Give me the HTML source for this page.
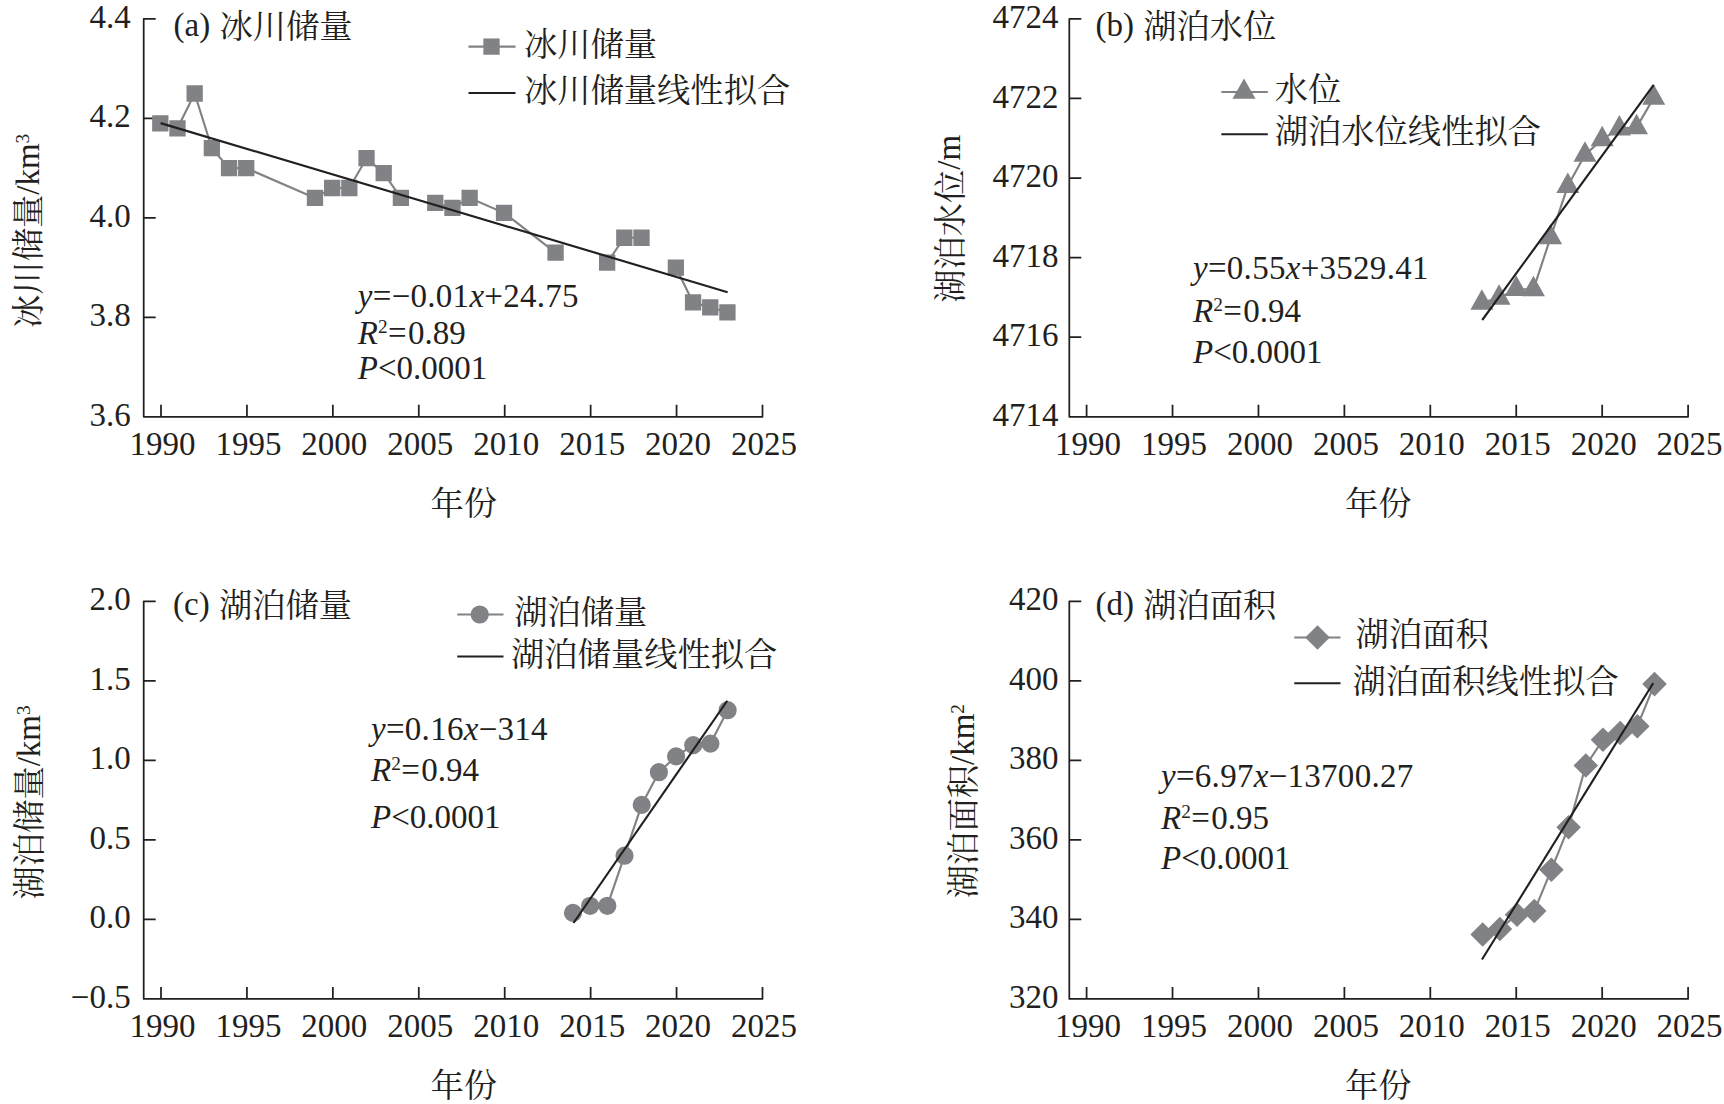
<!DOCTYPE html>
<html lang="zh-CN">
<head>
<meta charset="utf-8">
<title>冰川储量与湖泊变化</title>
<style>
html,body{margin:0;padding:0;background:#fff;}
svg{display:block;}
text{font-family:"Liberation Serif", "Noto Serif CJK SC", serif;font-size:33px;fill:#231f20;}
.c{font-size:33.3px;font-weight:400;}
.i{font-style:italic;}
.sup{font-size:19.3px;}
</style>
</head>
<body>
<svg width="1724" height="1104" viewBox="0 0 1724 1104">
<rect width="1724" height="1104" fill="#fff"/>
<path d="M155.7 18.9H143.7V416.8H762.5V404.8" fill="none" stroke="#231f20" stroke-width="1.75" stroke-linejoin="round"/>
<text x="130.7" y="28.00" text-anchor="end">4.4</text>
<text x="130.7" y="127.47" text-anchor="end">4.2</text>
<text x="130.7" y="226.95" text-anchor="end">4.0</text>
<text x="130.7" y="326.43" text-anchor="end">3.8</text>
<text x="130.7" y="425.90" text-anchor="end">3.6</text>
<text x="162.50" y="455.30" text-anchor="middle">1990</text>
<text x="248.43" y="455.30" text-anchor="middle">1995</text>
<text x="334.36" y="455.30" text-anchor="middle">2000</text>
<text x="420.29" y="455.30" text-anchor="middle">2005</text>
<text x="506.21" y="455.30" text-anchor="middle">2010</text>
<text x="592.14" y="455.30" text-anchor="middle">2015</text>
<text x="678.07" y="455.30" text-anchor="middle">2020</text>
<text x="764.00" y="455.30" text-anchor="middle">2025</text>
<path d="M143.7 118.38h12M143.7 217.85h12M143.7 317.32h12M161.00 416.8v-12M246.93 416.8v-12M332.86 416.8v-12M418.79 416.8v-12M504.71 416.8v-12M590.64 416.8v-12M676.57 416.8v-12" fill="none" stroke="#231f20" stroke-width="1.75"/>
<text class="c" x="463.75" y="515.4" text-anchor="middle">年份</text>
<text transform="translate(39.2 230.85) rotate(-90)" text-anchor="middle"><tspan class="c" dy="0.6">冰川储量</tspan><tspan dy="-0.6">/km<tspan class="sup" dy="-10">3</tspan></tspan></text>
<text x="173.5" y="36.2">(a) <tspan class="c" dy="1.8" dx="1">冰川储量</tspan></text>
<path d="M160.30 123.35L177.49 128.32L194.67 93.51L211.86 148.22L229.04 168.11L246.23 168.11L314.97 197.96L332.16 188.01L349.34 188.01L366.53 158.17L383.71 173.09L400.90 197.96M435.27 202.93L452.46 207.90L469.64 197.96L504.01 212.88L555.57 252.67M607.13 262.61L624.31 237.75L641.50 237.75M675.87 267.59L693.06 302.40L710.24 307.38L727.43 312.35" fill="none" stroke="#808285" stroke-width="2.15" stroke-linejoin="round"/>
<path d="M152.15 115.20h16.3v16.3h-16.3zM169.34 120.17h16.3v16.3h-16.3zM186.52 85.36h16.3v16.3h-16.3zM203.71 140.07h16.3v16.3h-16.3zM220.89 159.96h16.3v16.3h-16.3zM238.08 159.96h16.3v16.3h-16.3zM306.82 189.81h16.3v16.3h-16.3zM324.01 179.86h16.3v16.3h-16.3zM341.19 179.86h16.3v16.3h-16.3zM358.38 150.02h16.3v16.3h-16.3zM375.56 164.94h16.3v16.3h-16.3zM392.75 189.81h16.3v16.3h-16.3zM427.12 194.78h16.3v16.3h-16.3zM444.31 199.75h16.3v16.3h-16.3zM461.49 189.81h16.3v16.3h-16.3zM495.86 204.73h16.3v16.3h-16.3zM547.42 244.52h16.3v16.3h-16.3zM598.98 254.46h16.3v16.3h-16.3zM616.16 229.60h16.3v16.3h-16.3zM633.35 229.60h16.3v16.3h-16.3zM667.72 259.44h16.3v16.3h-16.3zM684.91 294.25h16.3v16.3h-16.3zM702.09 299.23h16.3v16.3h-16.3zM719.28 304.20h16.3v16.3h-16.3z" fill="#808285"/>
<path d="M160.60 123.10L727.60 292.20" stroke="#231f20" stroke-width="2.15" fill="none"/>
<path d="M468.5 46.6H515.5" stroke="#808285" stroke-width="2.15"/>
<path d="M483.35 38.45h16.3v16.3h-16.3z" fill="#808285"/>
<path d="M468.5 93H515.5" stroke="#231f20" stroke-width="2.15"/>
<text class="c" x="523.9" y="55.8">冰川储量</text>
<text class="c" x="523.9" y="102.2">冰川储量线性拟合</text>
<text x="357.8" y="306.50" letter-spacing="0.28"><tspan class="i">y</tspan>=−0.01<tspan class="i">x</tspan>+24.75</text>
<text x="357.8" y="344.40"><tspan class="i">R</tspan><tspan class="sup" dy="-11.3">2</tspan><tspan dy="11.3" dx="0.5">=</tspan><tspan dx="1.2">0.89</tspan></text>
<text x="357.8" y="378.80"><tspan class="i">P</tspan>&lt;0.0001</text>
<path d="M1081.3 18.9H1069.3V416.8H1688.1V404.8" fill="none" stroke="#231f20" stroke-width="1.75" stroke-linejoin="round"/>
<text x="1058.3999999999999" y="28.00" text-anchor="end">4724</text>
<text x="1058.3999999999999" y="107.58" text-anchor="end">4722</text>
<text x="1058.3999999999999" y="187.16" text-anchor="end">4720</text>
<text x="1058.3999999999999" y="266.74" text-anchor="end">4718</text>
<text x="1058.3999999999999" y="346.32" text-anchor="end">4716</text>
<text x="1058.3999999999999" y="425.90" text-anchor="end">4714</text>
<text x="1088.10" y="455.30" text-anchor="middle">1990</text>
<text x="1174.03" y="455.30" text-anchor="middle">1995</text>
<text x="1259.96" y="455.30" text-anchor="middle">2000</text>
<text x="1345.89" y="455.30" text-anchor="middle">2005</text>
<text x="1431.81" y="455.30" text-anchor="middle">2010</text>
<text x="1517.74" y="455.30" text-anchor="middle">2015</text>
<text x="1603.67" y="455.30" text-anchor="middle">2020</text>
<text x="1689.60" y="455.30" text-anchor="middle">2025</text>
<path d="M1069.3 98.48h12M1069.3 178.06h12M1069.3 257.64h12M1069.3 337.22h12M1086.60 416.8v-12M1172.53 416.8v-12M1258.46 416.8v-12M1344.39 416.8v-12M1430.31 416.8v-12M1516.24 416.8v-12M1602.17 416.8v-12" fill="none" stroke="#231f20" stroke-width="1.75"/>
<text class="c" x="1378.35" y="515.4" text-anchor="middle">年份</text>
<text transform="translate(960 218.85) rotate(-90)" text-anchor="middle"><tspan class="c" dy="2.3">湖泊水位</tspan><tspan dy="-2.3">/m</tspan></text>
<text x="1095.4" y="36.2">(b) <tspan class="c" dy="1.8" dx="1">湖泊水位</tspan></text>
<path d="M1481.87 302.85L1499.06 297.85L1516.24 289.10L1533.43 289.35L1550.61 237.35L1567.80 186.10L1584.99 154.85L1602.17 139.35L1619.36 128.60L1636.54 127.35L1653.73 97.85" fill="none" stroke="#808285" stroke-width="2.15" stroke-linejoin="round"/>
<path d="M1481.87 289.25l11.5 20.4h-23zM1499.06 284.25l11.5 20.4h-23zM1516.24 275.50l11.5 20.4h-23zM1533.43 275.75l11.5 20.4h-23zM1550.61 223.75l11.5 20.4h-23zM1567.80 172.50l11.5 20.4h-23zM1584.99 141.25l11.5 20.4h-23zM1602.17 125.75l11.5 20.4h-23zM1619.36 115.00l11.5 20.4h-23zM1636.54 113.75l11.5 20.4h-23zM1653.73 84.25l11.5 20.4h-23z" fill="#808285"/>
<path d="M1482.25 320.00L1653.70 84.90" stroke="#231f20" stroke-width="2.15" fill="none"/>
<path d="M1221.3 92H1267.8" stroke="#808285" stroke-width="2.15"/>
<path d="M1244.00 78.40l11.5 20.4h-23z" fill="#808285"/>
<path d="M1221.3 134.25H1267.8" stroke="#231f20" stroke-width="2.15"/>
<text class="c" x="1274.7" y="101.2">水位</text>
<text class="c" x="1274.7" y="143.45">湖泊水位线性拟合</text>
<text x="1193" y="279.20" letter-spacing="0.28"><tspan class="i">y</tspan>=0.55<tspan class="i">x</tspan>+3529.41</text>
<text x="1193" y="322.20"><tspan class="i">R</tspan><tspan class="sup" dy="-11.3">2</tspan><tspan dy="11.3" dx="0.5">=</tspan><tspan dx="1.2">0.94</tspan></text>
<text x="1193" y="363.30"><tspan class="i">P</tspan>&lt;0.0001</text>
<path d="M155.7 601.3H143.7V998.9H762.5V986.9" fill="none" stroke="#231f20" stroke-width="1.75" stroke-linejoin="round"/>
<text x="130.7" y="610.40" text-anchor="end">2.0</text>
<text x="130.7" y="689.92" text-anchor="end">1.5</text>
<text x="130.7" y="769.44" text-anchor="end">1.0</text>
<text x="130.7" y="848.96" text-anchor="end">0.5</text>
<text x="130.7" y="928.48" text-anchor="end">0.0</text>
<text x="130.7" y="1008.00" text-anchor="end">−0.5</text>
<text x="162.50" y="1037.40" text-anchor="middle">1990</text>
<text x="248.43" y="1037.40" text-anchor="middle">1995</text>
<text x="334.36" y="1037.40" text-anchor="middle">2000</text>
<text x="420.29" y="1037.40" text-anchor="middle">2005</text>
<text x="506.21" y="1037.40" text-anchor="middle">2010</text>
<text x="592.14" y="1037.40" text-anchor="middle">2015</text>
<text x="678.07" y="1037.40" text-anchor="middle">2020</text>
<text x="764.00" y="1037.40" text-anchor="middle">2025</text>
<path d="M143.7 680.82h12M143.7 760.34h12M143.7 839.86h12M143.7 919.38h12M161.00 998.9v-12M246.93 998.9v-12M332.86 998.9v-12M418.79 998.9v-12M504.71 998.9v-12M590.64 998.9v-12M676.57 998.9v-12" fill="none" stroke="#231f20" stroke-width="1.75"/>
<text class="c" x="463.75" y="1097.4" text-anchor="middle">年份</text>
<text transform="translate(39.5 802.40) rotate(-90)" text-anchor="middle"><tspan class="c" dy="1.1">湖泊储量</tspan><tspan dy="-1.1">/km<tspan class="sup" dy="-10">3</tspan></tspan></text>
<text x="173.1" y="615.2">(c) <tspan class="c" dy="1.8" dx="1">湖泊储量</tspan></text>
<path d="M572.96 912.93L590.14 905.78L607.33 905.78L624.51 855.70L641.70 804.82L658.89 772.22L676.07 756.32L693.26 745.19L710.44 743.60L727.63 710.21" fill="none" stroke="#808285" stroke-width="2.15" stroke-linejoin="round"/>
<path d="M563.86 912.93a9.1 9.1 0 1 0 18.2 0a9.1 9.1 0 1 0 -18.2 0zM581.04 905.78a9.1 9.1 0 1 0 18.2 0a9.1 9.1 0 1 0 -18.2 0zM598.23 905.78a9.1 9.1 0 1 0 18.2 0a9.1 9.1 0 1 0 -18.2 0zM615.41 855.70a9.1 9.1 0 1 0 18.2 0a9.1 9.1 0 1 0 -18.2 0zM632.60 804.82a9.1 9.1 0 1 0 18.2 0a9.1 9.1 0 1 0 -18.2 0zM649.79 772.22a9.1 9.1 0 1 0 18.2 0a9.1 9.1 0 1 0 -18.2 0zM666.97 756.32a9.1 9.1 0 1 0 18.2 0a9.1 9.1 0 1 0 -18.2 0zM684.16 745.19a9.1 9.1 0 1 0 18.2 0a9.1 9.1 0 1 0 -18.2 0zM701.34 743.60a9.1 9.1 0 1 0 18.2 0a9.1 9.1 0 1 0 -18.2 0zM718.53 710.21a9.1 9.1 0 1 0 18.2 0a9.1 9.1 0 1 0 -18.2 0z" fill="#808285"/>
<path d="M573.50 923.00L727.25 700.75" stroke="#231f20" stroke-width="2.15" fill="none"/>
<path d="M457.25 614.5H503.5" stroke="#808285" stroke-width="2.15"/>
<path d="M470.65 614.50a9.1 9.1 0 1 0 18.2 0a9.1 9.1 0 1 0 -18.2 0z" fill="#808285"/>
<path d="M457.25 656.5H503.5" stroke="#231f20" stroke-width="2.15"/>
<text class="c" x="514.1999999999999" y="623.7">湖泊储量</text>
<text class="c" x="511.00000000000006" y="665.7">湖泊储量线性拟合</text>
<text x="371" y="740.20" letter-spacing="0.28"><tspan class="i">y</tspan>=0.16<tspan class="i">x</tspan>−314</text>
<text x="371" y="781.30"><tspan class="i">R</tspan><tspan class="sup" dy="-11.3">2</tspan><tspan dy="11.3" dx="0.5">=</tspan><tspan dx="1.2">0.94</tspan></text>
<text x="371" y="828.20"><tspan class="i">P</tspan>&lt;0.0001</text>
<path d="M1081.3 601.3H1069.3V998.9H1688.1V986.9" fill="none" stroke="#231f20" stroke-width="1.75" stroke-linejoin="round"/>
<text x="1058.3999999999999" y="610.40" text-anchor="end">420</text>
<text x="1058.3999999999999" y="689.92" text-anchor="end">400</text>
<text x="1058.3999999999999" y="769.44" text-anchor="end">380</text>
<text x="1058.3999999999999" y="848.96" text-anchor="end">360</text>
<text x="1058.3999999999999" y="928.48" text-anchor="end">340</text>
<text x="1058.3999999999999" y="1008.00" text-anchor="end">320</text>
<text x="1088.10" y="1037.40" text-anchor="middle">1990</text>
<text x="1174.03" y="1037.40" text-anchor="middle">1995</text>
<text x="1259.96" y="1037.40" text-anchor="middle">2000</text>
<text x="1345.89" y="1037.40" text-anchor="middle">2005</text>
<text x="1431.81" y="1037.40" text-anchor="middle">2010</text>
<text x="1517.74" y="1037.40" text-anchor="middle">2015</text>
<text x="1603.67" y="1037.40" text-anchor="middle">2020</text>
<text x="1689.60" y="1037.40" text-anchor="middle">2025</text>
<path d="M1069.3 680.82h12M1069.3 760.34h12M1069.3 839.86h12M1069.3 919.38h12M1086.60 998.9v-12M1172.53 998.9v-12M1258.46 998.9v-12M1344.39 998.9v-12M1430.31 998.9v-12M1516.24 998.9v-12M1602.17 998.9v-12" fill="none" stroke="#231f20" stroke-width="1.75"/>
<text class="c" x="1378.35" y="1097.4" text-anchor="middle">年份</text>
<text transform="translate(974.4 801.10) rotate(-90)" text-anchor="middle"><tspan class="c" dy="0.9">湖泊面积</tspan><tspan dy="-0.9">/km<tspan class="sup" dy="-10">2</tspan></tspan></text>
<text x="1095.4" y="615.2">(d) <tspan class="c" dy="1.8" dx="1">湖泊面积</tspan></text>
<path d="M1482.67 934.50L1499.86 928.94L1517.04 914.63L1534.23 911.05L1551.41 869.71L1568.60 827.18L1585.79 765.57L1602.97 739.73L1620.16 732.97L1637.34 726.21L1654.53 684.08" fill="none" stroke="#808285" stroke-width="2.15" stroke-linejoin="round"/>
<path d="M1482.67 922.21l12.3 12.3l-12.3 12.3l-12.3 -12.3zM1499.86 916.64l12.3 12.3l-12.3 12.3l-12.3 -12.3zM1517.04 902.33l12.3 12.3l-12.3 12.3l-12.3 -12.3zM1534.23 898.75l12.3 12.3l-12.3 12.3l-12.3 -12.3zM1551.41 857.41l12.3 12.3l-12.3 12.3l-12.3 -12.3zM1568.60 814.88l12.3 12.3l-12.3 12.3l-12.3 -12.3zM1585.79 753.27l12.3 12.3l-12.3 12.3l-12.3 -12.3zM1602.97 727.43l12.3 12.3l-12.3 12.3l-12.3 -12.3zM1620.16 720.67l12.3 12.3l-12.3 12.3l-12.3 -12.3zM1637.34 713.91l12.3 12.3l-12.3 12.3l-12.3 -12.3zM1654.53 671.78l12.3 12.3l-12.3 12.3l-12.3 -12.3z" fill="#808285"/>
<path d="M1482.00 959.50L1653.30 683.00" stroke="#231f20" stroke-width="2.15" fill="none"/>
<path d="M1294.25 637.5H1340.5" stroke="#808285" stroke-width="2.15"/>
<path d="M1317.50 625.20l12.3 12.3l-12.3 12.3l-12.3 -12.3z" fill="#808285"/>
<path d="M1294.25 683.25H1340.5" stroke="#231f20" stroke-width="2.15"/>
<text class="c" x="1355.6" y="646.3000000000001">湖泊面积</text>
<text class="c" x="1352.3999999999999" y="693.0500000000001">湖泊面积线性拟合</text>
<text x="1161" y="786.50" letter-spacing="0.28"><tspan class="i">y</tspan>=6.97<tspan class="i">x</tspan>−13700.27</text>
<text x="1161" y="829.40"><tspan class="i">R</tspan><tspan class="sup" dy="-11.3">2</tspan><tspan dy="11.3" dx="0.5">=</tspan><tspan dx="1.2">0.95</tspan></text>
<text x="1161" y="869.00"><tspan class="i">P</tspan>&lt;0.0001</text>
</svg>
</body>
</html>
